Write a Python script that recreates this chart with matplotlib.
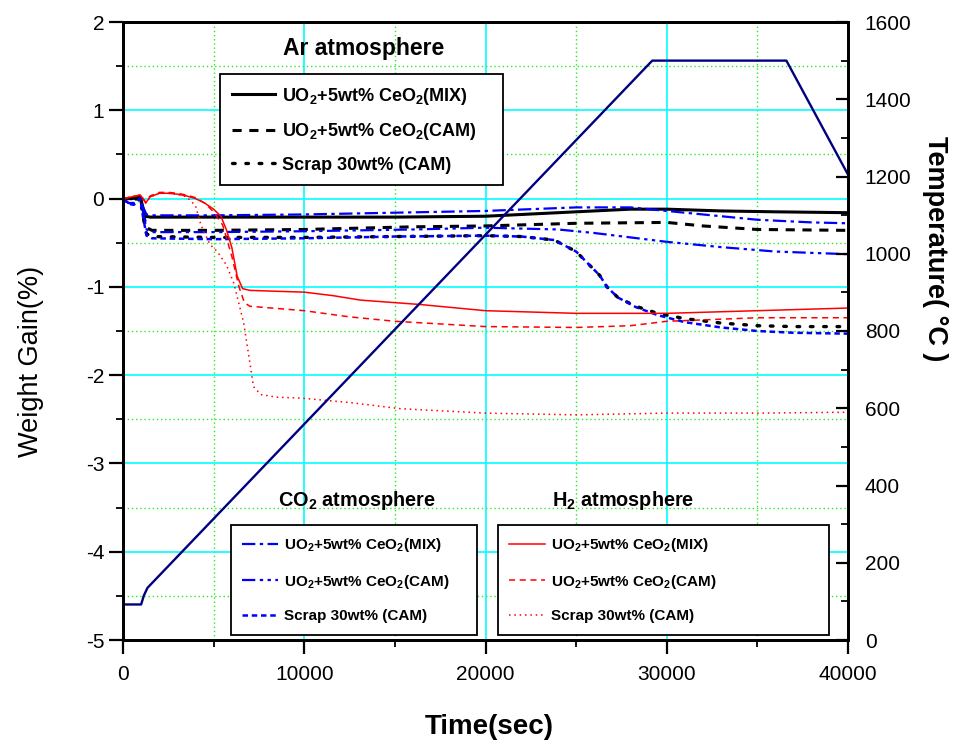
import matplotlib
matplotlib.use("Agg")
import matplotlib.pyplot as plt
from matplotlib.ticker import MultipleLocator

FAM = ['Liberation Sans', 'DejaVu Sans']
plt.rcParams['font.family'] = FAM
plt.rcParams['mathtext.fontset'] = 'custom'
plt.rcParams['mathtext.rm'] = 'Liberation Sans:bold'
plt.rcParams['mathtext.bf'] = 'Liberation Sans:bold'
plt.rcParams['mathtext.it'] = 'Liberation Sans:bold'

# ---------------- data ----------------
# Temperature program
temp_t = [0, 1000, 1150, 1350, 29200, 36600, 40000]
temp_v = [92, 92, 115, 135, 1500, 1500, 1205]

# Ar atmosphere
ar_mix_t = [0, 500, 950, 1100, 1250, 1500, 3000, 6000, 10000, 15000, 20000, 25000, 28000, 30000, 33000, 36000, 40000]
ar_mix_w = [0, 0.0, 0.02, -0.1, -0.2, -0.21, -0.21, -0.21, -0.21, -0.21, -0.2, -0.15, -0.12, -0.12, -0.14, -0.15, -0.16]

ar_cam_t = [0, 500, 950, 1100, 1300, 1600, 5000, 10000, 16000, 20000, 25000, 30000, 32000, 35000, 40000]
ar_cam_w = [0, 0.0, 0.02, -0.15, -0.33, -0.36, -0.36, -0.35, -0.32, -0.31, -0.28, -0.27, -0.31, -0.35, -0.36]

ar_scr_t = [0, 500, 950, 1100, 1300, 1600, 5000, 10000, 15000, 20000, 22000, 23800, 25000, 26300, 26700,
            27300, 28300, 29500, 31000, 33000, 35000, 37000, 40000]
ar_scr_w = [0, -0.02, 0.01, -0.2, -0.4, -0.43, -0.44, -0.44, -0.43, -0.42, -0.43, -0.47, -0.6, -0.87, -1.0,
            -1.12, -1.22, -1.3, -1.36, -1.41, -1.44, -1.45, -1.45]

# CO2 atmosphere
co2_mix_t = [0, 300, 600, 950, 1100, 1300, 1600, 5000, 10000, 15000, 20000, 25000, 28000, 30000, 33000, 35000, 38000, 40000]
co2_mix_w = [0, -0.05, -0.05, 0, -0.1, -0.18, -0.19, -0.19, -0.18, -0.16, -0.14, -0.1, -0.1, -0.14, -0.2, -0.24, -0.27, -0.28]

co2_cam_t = [0, 300, 600, 950, 1100, 1300, 1600, 5000, 10000, 16000, 20000, 24000, 26000, 28000, 30000, 33000, 36000, 40000]
co2_cam_w = [0, -0.05, -0.06, 0, -0.15, -0.35, -0.38, -0.38, -0.37, -0.35, -0.33, -0.35, -0.39, -0.44, -0.49, -0.55, -0.6, -0.63]

co2_scr_t = [0, 300, 600, 950, 1100, 1300, 1600, 5000, 10000, 15000, 20000, 22000, 23800, 25000, 26300, 26700,
             27300, 28300, 29500, 31000, 33000, 35000, 37000, 40000]
co2_scr_w = [0, -0.06, -0.07, 0, -0.2, -0.42, -0.45, -0.46, -0.45, -0.43, -0.42, -0.43, -0.47, -0.6, -0.87, -1.0,
             -1.12, -1.23, -1.32, -1.4, -1.46, -1.5, -1.52, -1.53]

# H2 atmosphere
h2_mix_t = [0, 500, 950, 1100, 1250, 1500, 2000, 2500, 3000, 3500, 4000, 4500, 5000, 5400, 5700, 6000, 6300, 6600,
            7000, 10000, 11600, 13100, 16400, 20000, 25000, 30000, 35000, 40000]
h2_mix_w = [0, 0.02, 0.04, 0.0, -0.05, 0.02, 0.06, 0.06, 0.05, 0.03, 0.0, -0.05, -0.12, -0.2, -0.35, -0.55, -0.88, -1.02,
            -1.04, -1.06, -1.1, -1.15, -1.2, -1.27, -1.3, -1.3, -1.27, -1.24]

h2_cam_t = [0, 500, 950, 1100, 1250, 1500, 2000, 2500, 3000, 3500, 4000, 4500, 5000, 5500, 6000, 6400, 6700, 7000,
            10000, 12500, 15000, 20000, 25000, 28000, 30000, 35000, 40000]
h2_cam_w = [0, 0.02, 0.04, 0.0, -0.04, 0.03, 0.07, 0.07, 0.06, 0.04, 0.01, -0.05, -0.15, -0.3, -0.65, -1.0, -1.18, -1.22,
            -1.27, -1.34, -1.39, -1.45, -1.46, -1.44, -1.39, -1.35, -1.35]

h2_scr_t = [0, 500, 950, 1100, 1250, 1500, 2000, 2500, 3000, 3500, 4000, 4300, 4800, 5200, 5700, 6100, 6650, 7000,
            7200, 7600, 8500, 9800, 12500, 15300, 20000, 25000, 30000, 35000, 40000]
h2_scr_w = [0, 0.02, 0.04, 0.0, -0.05, 0.02, 0.06, 0.06, 0.05, 0.02, -0.08, -0.3, -0.52, -0.6, -0.75, -0.95, -1.4, -1.86,
            -2.13, -2.22, -2.25, -2.26, -2.31, -2.38, -2.43, -2.45, -2.43, -2.43, -2.42]

labels = [r'UO$_2$+5wt% CeO$_2$(MIX)', r'UO$_2$+5wt% CeO$_2$(CAM)', 'Scrap 30wt% (CAM)']
x_ticks = [0, 10000, 20000, 30000, 40000]
y_ticks = [-5, -4, -3, -2, -1, 0, 1, 2]
t_ticks = [0, 200, 400, 600, 800, 1000, 1200, 1400, 1600]

# ---------------- figure ----------------
W, H = 959, 747
fig = plt.figure(figsize=(W / 100, H / 100), dpi=100)
ax = fig.add_axes([123 / W, 1 - 640 / H, 725 / W, 618 / H])
ax2 = ax.twinx()

CYAN = '#00FFFF'
GREEN = '#22EE22'
BLUE = '#0000FF'
RED = '#FF0000'
NAVY = '#000080'

# grid
ax.set_axisbelow(True)
ax.xaxis.set_major_locator(MultipleLocator(10000))
ax.xaxis.set_minor_locator(MultipleLocator(5000))
ax.yaxis.set_major_locator(MultipleLocator(1))
ax.yaxis.set_minor_locator(MultipleLocator(0.5))
ax.grid(which='major', color=CYAN, lw=1.2, ls='-')
ax.grid(which='minor', color=GREEN, lw=1.0, ls=(0, (1, 2)))

# lines
l_ar1, = ax.plot(ar_mix_t, ar_mix_w, color='black', lw=2.2, ls='-')
l_ar2, = ax.plot(ar_cam_t, ar_cam_w, color='black', lw=2.2, ls=(0, (3, 2.5)))
l_ar3, = ax.plot(ar_scr_t, ar_scr_w, color='black', lw=2.4, ls=(0, (0.8, 3.2)), dash_capstyle='round')

l_c1, = ax.plot(co2_mix_t, co2_mix_w, color=BLUE, lw=1.6, ls=(0, (6, 2, 1.5, 2)))
l_c2, = ax.plot(co2_cam_t, co2_cam_w, color=BLUE, lw=1.6, ls=(0, (6, 2, 1.5, 2, 1.5, 2)))
l_c3, = ax.plot(co2_scr_t, co2_scr_w, color=BLUE, lw=1.8, ls=(0, (2.2, 1.5)))

l_h1, = ax.plot(h2_mix_t, h2_mix_w, color=RED, lw=1.1, ls='-')
l_h2, = ax.plot(h2_cam_t, h2_cam_w, color=RED, lw=1.1, ls=(0, (4, 3)))
l_h3, = ax.plot(h2_scr_t, h2_scr_w, color=RED, lw=1.1, ls=(0, (1, 2.5)))

ax2.plot(temp_t, temp_v, color=NAVY, lw=1.7)

# axes limits/ticks
ax.set_xlim(0, 40000)
ax.set_ylim(-5, 2)
ax2.set_ylim(0, 1600)
ax2.yaxis.set_minor_locator(MultipleLocator(100))

ax.tick_params(axis='both', which='major', direction='out', length=10, width=1.6, labelsize=15)
ax.tick_params(axis='both', which='minor', direction='out', length=5, width=1.3)
ax.tick_params(axis='y', which='both', right=False)
ax.tick_params(axis='x', which='both', top=False, pad=8)
ax2.tick_params(axis='y', which='major', direction='in', length=9, width=1.6, labelsize=15, pad=12)
ax2.tick_params(axis='y', which='minor', direction='in', length=5, width=1.3)

for a in (ax, ax2):
    for s in a.spines.values():
        s.set_linewidth(2)

ax.set_xticks(x_ticks)
ax.set_xticklabels([str(v) for v in x_ticks])
ax.set_yticks(y_ticks)
ax.set_yticklabels([str(v) for v in y_ticks])
ax2.set_yticks(t_ticks)
ax2.set_yticklabels([str(v) for v in t_ticks])

ax.set_xlabel('Time(sec)', fontsize=20, fontweight='bold', va='center')
ax.xaxis.set_label_coords((489 - 123) / 725, -(727 - 640) / 618)
ax.set_ylabel('Weight Gain(%)', fontsize=19.5)
ax.yaxis.set_label_coords((44 - 123) / 725, (640 - 361) / 618)
ax2.set_ylabel('Temperature( °C )', fontsize=19.5, fontweight='bold', rotation=270, va='center')
ax2.yaxis.set_label_coords((935 - 123) / 725, (640 - 249) / 618)


# legends
def make_legend(handles, box, fs, hl, bp, ls):
    x0, y0, x1, y1 = box
    leg = ax.legend(handles, labels, loc='upper left',
                    bbox_to_anchor=(x0 / W, 1 - y1 / H, (x1 - x0) / W, (y1 - y0) / H),
                    bbox_transform=fig.transFigure, mode='expand',
                    prop=dict(weight='bold', size=fs), frameon=True, fancybox=False,
                    edgecolor='black', framealpha=1, handlelength=hl, handletextpad=0.4,
                    labelspacing=ls, borderpad=bp, borderaxespad=0)
    leg.get_frame().set_linewidth(1.3)
    leg.set_zorder(20)
    return leg

leg1 = make_legend([l_ar1, l_ar2, l_ar3], (220, 74, 503, 185), 13, 2.4, 0.65, 0.8)
ax.add_artist(leg1)
leg2 = make_legend([l_c1, l_c2, l_c3], (231, 525, 477, 635), 11, 2.3, 0.75, 1.2)
ax.add_artist(leg2)
leg3 = make_legend([l_h1, l_h2, l_h3], (498, 525, 829, 635), 11, 2.3, 0.75, 1.2)

fig.text(364 / W, 1 - 48 / H, 'Ar atmosphere', ha='center', va='center', fontsize=16.5, fontweight='bold')
fig.text(357 / W, 1 - 500 / H, r'CO$_2$ atmosphere', ha='center', va='center', fontsize=14.3, fontweight='bold')
fig.text(623 / W, 1 - 500 / H, r'H$_2$ atmosphere', ha='center', va='center', fontsize=14.3, fontweight='bold')

fig.savefig('out.png', dpi=100)
